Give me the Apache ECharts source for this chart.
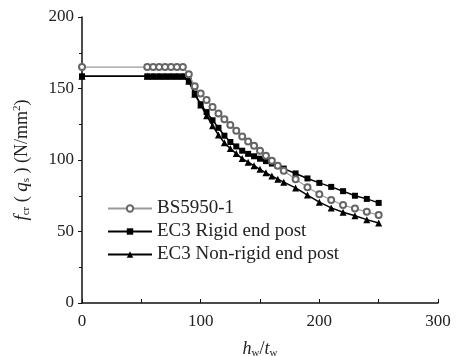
<!DOCTYPE html>
<html><head><meta charset="utf-8">
<script src="https://cdn.jsdelivr.net/npm/echarts@6/dist/echarts.min.js"></script>
<style>html,body{margin:0;padding:0;background:#fff}#c{width:457px;height:356px}</style>
</head><body><div id="c"></div>
<script>
const xs = [0,55,60,65,70,75,80,85,90,95,100,105,110,115,120,125,130,135,140,145,150,155,160,165,170,180,190,200,210,220,230,240,250];
const bs5950 = [165,165,165,165,165,165,165,165,160,151.5,146.5,142,137,132.5,128.5,124.5,120.5,116.5,113,110,106.5,103,99.5,96,92.5,86.5,81,76,72,68.5,66,63.8,61.5];
const ec3Rigid = [158.5,158.5,158.5,158.5,158.5,158.5,158.5,158.5,155.5,146.5,139,133.5,127.8,122.5,117,112.6,109.5,106.5,104.3,102.6,100.9,99.2,97.5,95.8,94,90.6,87.1,84,81.2,78.2,75,72.8,70];
const ec3NonRigid = [158.5,158.5,158.5,158.5,158.5,158.5,158.5,158.5,155,146,138.5,131,124,117.5,112,108,104.5,101,98.5,96,93.5,91,88.8,86.6,84.5,80.5,75.5,70.5,66.5,63.5,61,58.3,56];
const seriesNames = ['BS5950-1','EC3 Rigid end post','EC3 Non-rigid end post'];
const xTicks = [0,100,200,300];
const yTicks = [0,50,100,150,200];

const pair = arr => xs.map((x,i)=>[x,arr[i]]);
const font = '"Liberation Serif","DejaVu Serif",serif';
const chart = echarts.init(document.getElementById('c'));
chart.setOption({
  animation:false,
  backgroundColor:'#fff',
  grid:{left:82,top:17,right:19,bottom:53,outerBoundsMode:'none',containLabel:false},
  legend:{
    orient:'vertical', left:102, top:194, itemWidth:44, itemHeight:8, itemGap:4,
    data:seriesNames,
    textStyle:{fontFamily:font,fontSize:19,color:'#222'}
  },
  xAxis:{
    type:'value', min:xTicks[0], max:xTicks[xTicks.length-1], interval:100,
    name:'{i|h}{s|w}{n|/}{i|t}{s|w}', nameLocation:'middle', nameGap:36,
    nameTextStyle:{rich:{
      i:{fontFamily:font,fontStyle:'italic',fontSize:18,color:'#222'},
      s:{fontFamily:font,fontSize:11,color:'#222',verticalAlign:'bottom',padding:[9,0,0,0]},
      n:{fontFamily:font,fontSize:18,color:'#222'}
    }},
    axisLine:{lineStyle:{color:'#111',width:1.5}},
    axisTick:{inside:true,length:4,lineStyle:{color:'#111'}},
    minorTick:{show:true,splitNumber:2,length:4,lineStyle:{color:'#111'}},
    splitLine:{show:false},
    axisLabel:{fontFamily:font,fontSize:17,color:'#222',margin:10}
  },
  yAxis:{
    type:'value', min:yTicks[0], max:yTicks[yTicks.length-1], interval:50,
    name:'{i|f}{s|cr}{n| ( }{i|q}{s|s}{n| ) (N/mm}{u|2}{n|)}', nameLocation:'middle', nameGap:50, nameRotate:90,
    nameTextStyle:{rich:{
      i:{fontFamily:font,fontStyle:'italic',fontSize:19,color:'#222'},
      s:{fontFamily:font,fontSize:11,color:'#222',verticalAlign:'bottom',padding:[9,0,0,0]},
      n:{fontFamily:font,fontSize:18,color:'#222'},
      u:{fontFamily:font,fontSize:11,color:'#222',verticalAlign:'top',padding:[0,0,9,0]}
    }},
    axisLine:{show:true,lineStyle:{color:'#111',width:1.5}},
    axisTick:{show:true,inside:false,length:4,lineStyle:{color:'#111'}},
    minorTick:{show:true,splitNumber:2,length:3,lineStyle:{color:'#111'}},
    splitLine:{show:false},
    axisLabel:{fontFamily:font,fontSize:17,color:'#222',margin:8}
  },
  series:[
    {name:seriesNames[1],type:'line',data:pair(ec3Rigid),symbol:'rect',symbolSize:6,showAllSymbol:true,
     itemStyle:{color:'#000'},lineStyle:{color:'#000',width:1.5},z:3},
    {name:seriesNames[2],type:'line',data:pair(ec3NonRigid),symbol:'triangle',symbolSize:7,showAllSymbol:true,
     itemStyle:{color:'#000'},lineStyle:{color:'#000',width:1.5},z:3},
    {name:seriesNames[0],type:'line',data:pair(bs5950),symbol:'emptyCircle',symbolSize:6,showAllSymbol:true,
     itemStyle:{color:'#666',borderWidth:1},lineStyle:{color:'#999',width:1.2},z:4}
  ]
});
</script></body></html>
